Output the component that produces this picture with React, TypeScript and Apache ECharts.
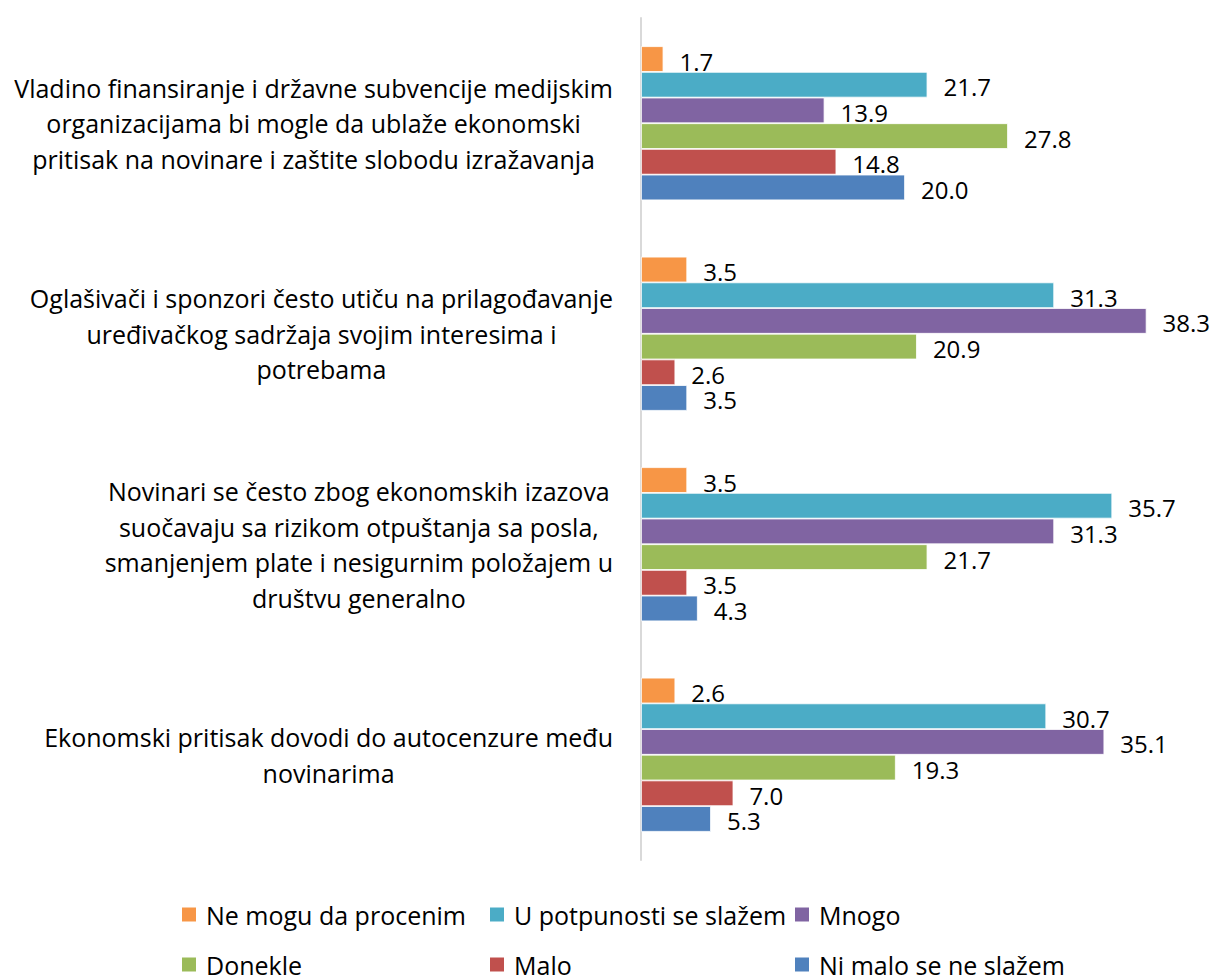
import React, { useEffect, useRef } from "react";
import * as echarts from "echarts";

const categories = [
  "Vladino finansiranje i državne subvencije medijskim\norganizacijama bi mogle da ublaže ekonomski\npritisak na novinare i zaštite slobodu izražavanja",
  "Oglašivači i sponzori često utiču na prilagođavanje\nuređivačkog sadržaja svojim interesima i\npotrebama",
  "Novinari se često zbog ekonomskih izazova\nsuočavaju sa rizikom otpuštanja sa posla,\nsmanjenjem plate i nesigurnim položajem u\ndruštvu generalno",
  "Ekonomski pritisak dovodi do autocenzure među\nnovinarima",
];

const seriesNames = [
  "Ne mogu da procenim",
  "U potpunosti se slažem",
  "Mnogo",
  "Donekle",
  "Malo",
  "Ni malo se ne slažem",
];

const neMogu = [1.7, 3.5, 3.5, 2.6];
const uPotpunosti = [21.7, 31.3, 35.7, 30.7];
const mnogo = [13.9, 38.3, 31.3, 35.1];
const donekle = [27.8, 20.9, 21.7, 19.3];
const malo = [14.8, 2.6, 3.5, 7.0];
const niMalo = [20.0, 3.5, 4.3, 5.3];

const seriesValues = [neMogu, uPotpunosti, mnogo, donekle, malo, niMalo];
const colors = ["#F79646", "#4BACC6", "#8064A2", "#9BBB59", "#C0504D", "#4F81BD"];

const FONT = "'Open Sans', 'Noto Sans', sans-serif";

export default function App() {
  const ref = useRef<HTMLDivElement>(null);
  useEffect(() => {
    if (!ref.current) return;
    const chart = echarts.init(ref.current, undefined, { renderer: "svg" });
    const legendPos = [
      { left: 180, top: 902 },
      { left: 488, top: 902 },
      { left: 793, top: 902 },
      { left: 180, top: 952 },
      { left: 488, top: 952 },
      { left: 793, top: 952 },
    ];
    chart.setOption({
      animation: false,
      color: colors,
      textStyle: { fontFamily: FONT },
      grid: { left: 641, right: 46, top: 18, bottom: 118, containLabel: false },
      xAxis: {
        type: "value",
        min: 0,
        max: 40,
        show: false,
      },
      yAxis: {
        type: "category",
        inverse: true,
        data: categories,
        axisLine: { show: true, lineStyle: { color: "#d9d9d9", width: 2 } },
        axisTick: { show: false },
        axisLabel: {
          margin: 28,
          color: "#000",
          fontSize: 25,
          lineHeight: 35.5,
          fontFamily: FONT,
          formatter: (v: string) =>
            v
              .split("\n")
              .map((l) => `{c|${l}}`)
              .join("\n"),
          rich: {
            c: { align: "center", fontSize: 25, lineHeight: 35.5, color: "#000", fontFamily: FONT },
          },
        },
      },
      legend: seriesNames.map((n, i) => ({
        data: [n],
        left: legendPos[i].left,
        top: legendPos[i].top,
        padding: 0,
        itemWidth: 16,
        itemHeight: 16,
        itemGap: 0,
        icon: "rect",
        selectedMode: false,
        textStyle: { fontSize: 25, color: "#000", fontFamily: FONT, lineHeight: 25, padding: [0, 0, 0, 4] },
      })),
      series: seriesNames.map((n, i) => ({
        name: n,
        type: "bar",
        data: seriesValues[i],
        barGap: "0%",
        barCategoryGap: "26.8%",
        itemStyle: { color: colors[i], borderColor: "#ffffff", borderWidth: 0.8 },
        label: {
          show: true,
          position: "right",
          distance: 16,
          offset: [0, 2],
          color: "#000",
          fontSize: 24,
          fontFamily: FONT,
          formatter: (p: any) => Number(p.value).toFixed(1),
        },
      })),
    });
    return () => chart.dispose();
  }, []);
  return (
    <div
      ref={ref}
      style={{ position: "absolute", left: 0, top: 0, width: 1215, height: 978, background: "#fff" }}
    />
  );
}
